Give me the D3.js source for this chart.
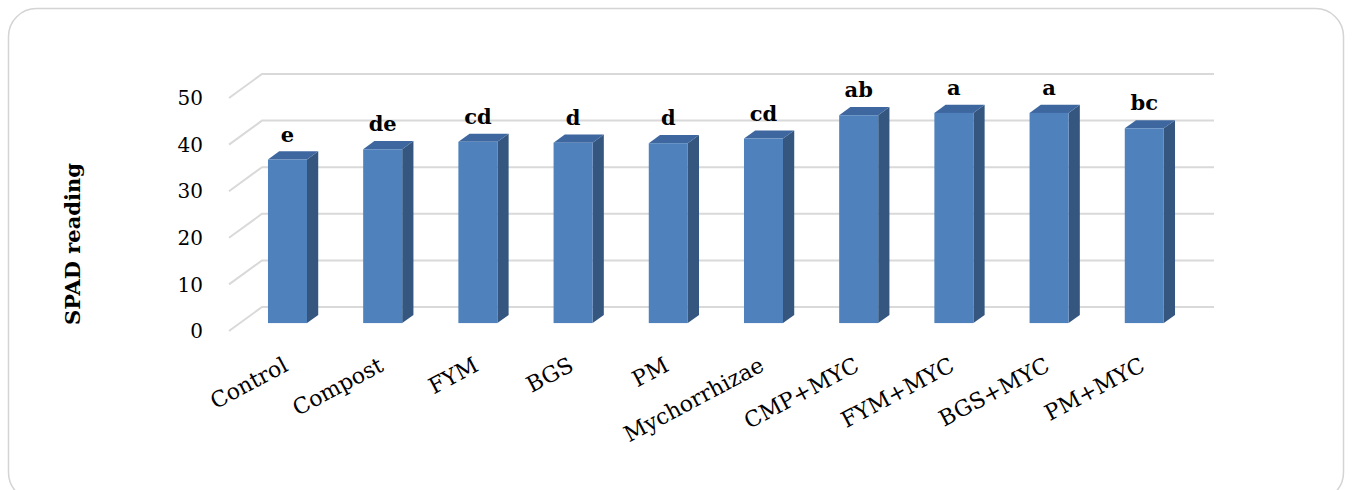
<!DOCTYPE html>
<html>
<head>
<meta charset="utf-8">
<script src="https://cdn.jsdelivr.net/npm/d3@7"></script>
<style>
  body { margin: 0; background: #fff; }
  svg { display: block; }
  text { font-family: 'DejaVu Serif', 'Liberation Serif', serif; fill: #000; }
</style>
</head>
<body>
<div id="chart"></div>
<script>
// data
const categories = ['Control', 'Compost', 'FYM', 'BGS', 'PM', 'Mychorrhizae', 'CMP+MYC', 'FYM+MYC', 'BGS+MYC', 'PM+MYC'];
const spadValues = [35.1, 37.3, 38.9, 38.7, 38.6, 39.6, 44.6, 45.1, 45.1, 41.8];
const letters = ['e', 'de', 'cd', 'd', 'd', 'cd', 'ab', 'a', 'a', 'bc'];
const yTicks = [0, 10, 20, 30, 40, 50];

const width = 1353, height = 490;

// back wall of the 3d box
const wall = { left: 262, right: 1214, top: 74, bottom: 307 };
// depth of the floor, back -> front
const depth = { dx: -33, dy: 24 };
// bar sits between these fractions of the depth
const barBack = 0.33, barFront = 0.67;

const svg = d3.select('#chart').append('svg')
  .attr('width', width)
  .attr('height', height);

// card border
svg.append('rect')
  .attr('x', 8.5).attr('y', 8.5)
  .attr('width', 1335).attr('height', 492)
  .attr('rx', 28)
  .attr('fill', '#fff')
  .attr('stroke', '#d4d4d4')
  .attr('stroke-width', 1.5);

const x = d3.scaleBand()
  .domain(categories)
  .range([wall.left, wall.right])
  .paddingInner(0.59)
  .paddingOuter(0.295);

const y = d3.scaleLinear()
  .domain([0, 50])
  .range([wall.bottom, wall.top]);

// gridlines: back wall + left side wall
const grid = svg.append('g');
yTicks.forEach(t => {
  grid.append('path')
    .attr('d', `M${wall.left + depth.dx},${y(t) + depth.dy}L${wall.left},${y(t)}L${wall.right},${y(t)}`)
    .attr('fill', 'none')
    .attr('stroke', '#d9d9d9')
    .attr('stroke-width', 2);
});

// y tick labels, on the front edge
svg.append('g').selectAll('text')
  .data(yTicks)
  .enter().append('text')
  .attr('x', wall.left + depth.dx - 26)
  .attr('y', d => y(d) + depth.dy)
  .attr('dy', '0.36em')
  .attr('text-anchor', 'end')
  .style('font-size', '20px')
  .text(d => d);

// y axis title
svg.append('text')
  .attr('transform', 'translate(80,244) rotate(-90)')
  .attr('text-anchor', 'middle')
  .style('font-size', '21px')
  .style('font-weight', 'bold')
  .text('SPAD reading');

// bars
const sdx = (barBack - barFront) * depth.dx;
const sdy = (barBack - barFront) * depth.dy;
const bars = categories.map((c, i) => {
  const x0 = x(c) + barFront * depth.dx;
  const x1 = x0 + x.bandwidth();
  const yTop = y(spadValues[i]) + barFront * depth.dy;
  const yBot = y(0) + barFront * depth.dy;
  return { c, i, x0, x1, yTop, yBot };
});

const g = svg.append('g');
const bar = g.selectAll('g.bar')
  .data(bars)
  .enter().append('g')
  .attr('class', 'bar');

// side face
bar.append('path')
  .attr('d', d => `M${d.x1},${d.yTop}L${d.x1 + sdx},${d.yTop + sdy}L${d.x1 + sdx},${d.yBot + sdy}L${d.x1},${d.yBot}Z`)
  .attr('fill', '#34567f');

// top face
bar.append('path')
  .attr('d', d => `M${d.x0},${d.yTop}L${d.x1},${d.yTop}L${d.x1 + sdx},${d.yTop + sdy}L${d.x0 + sdx},${d.yTop + sdy}Z`)
  .attr('fill', '#3e67a0');

// front face
bar.append('rect')
  .attr('x', d => d.x0)
  .attr('y', d => d.yTop)
  .attr('width', x.bandwidth())
  .attr('height', d => d.yBot - d.yTop)
  .attr('fill', '#4f81bd');

// significance letters
svg.append('g').selectAll('text')
  .data(bars)
  .enter().append('text')
  .attr('x', d => (d.x0 + d.x1) / 2)
  .attr('y', d => d.yTop - 18)
  .attr('text-anchor', 'middle')
  .style('font-size', '21px')
  .style('font-weight', 'bold')
  .text(d => letters[d.i]);

// category labels
svg.append('g').selectAll('text')
  .data(bars)
  .enter().append('text')
  .attr('transform', d => `translate(${(d.x0 + d.x1) / 2 + 2},${y(0) + depth.dy + 39}) rotate(-28)`)
  .attr('text-anchor', 'end')
  .style('font-size', '22px')
  .text(d => d.c);
</script>
</body>
</html>
